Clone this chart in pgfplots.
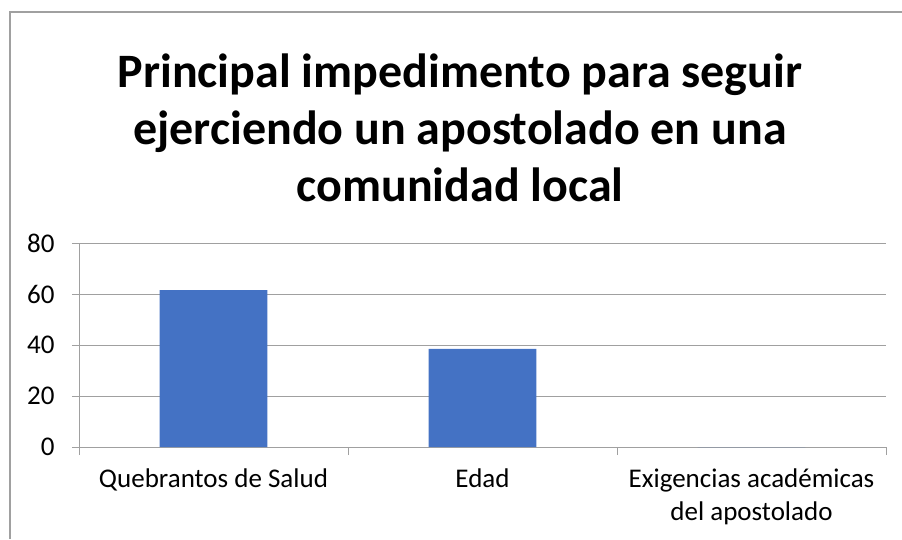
\documentclass[border=0pt]{standalone}
\usepackage{pgfplots}
\pgfplotsset{compat=1.18}
\usepackage{fontspec}
\setmainfont{Carlito}
\definecolor{barblue}{HTML}{4472C4}
\definecolor{gridgray}{HTML}{A0A0A0}
\begin{document}
\begin{tikzpicture}[x=1pt,y=1pt]
\useasboundingbox (0,0) rectangle (902,539);
\draw[gridgray, line width=1.2pt] (10,0) -- (10,527) -- (902,527);
\node[font=\fontsize{48}{57}\selectfont\bfseries, align=center, anchor=base] at (460,337) {Principal impedimento para seguir\\ejerciendo un apostolado en una\\comunidad local};
\begin{axis}[
  at={(79pt,92pt)}, anchor=south west,
  width=807pt, height=204pt, scale only axis,
  xmin=-0.5, xmax=2.5, ymin=0, ymax=80,
  ytick={0,20,40,60,80},
  xtick={0,1,2},
  xticklabels={Quebrantos de Salud, Edad, {Exigencias académicas\\del apostolado}},
  minor xtick={-0.5,0.5,1.5,2.5},
  axis x line=bottom, axis y line=left,
  axis line style={gridgray, line width=1pt, -},
  tick align=outside,
  major tick length=7pt, minor tick length=8pt,
  major x tick style={draw=none},
  minor x tick style={gridgray, line width=1pt},
  major y tick style={gridgray, line width=1pt},
  ymajorgrids,
  grid style={gridgray, line width=1pt},
  /pgf/number format/assume math mode=true,
  ticklabel style={font=\fontsize{27}{33}\selectfont, text=black},
  xticklabel style={align=center, anchor=north, yshift=-11pt},
  yticklabel style={anchor=east, xshift=-14pt},
  ybar, bar width=0.4,
]
\addplot[fill=barblue, draw=none] coordinates {(0,61.5) (1,38.5) (2,0)};
\end{axis}
\end{tikzpicture}
\end{document}
